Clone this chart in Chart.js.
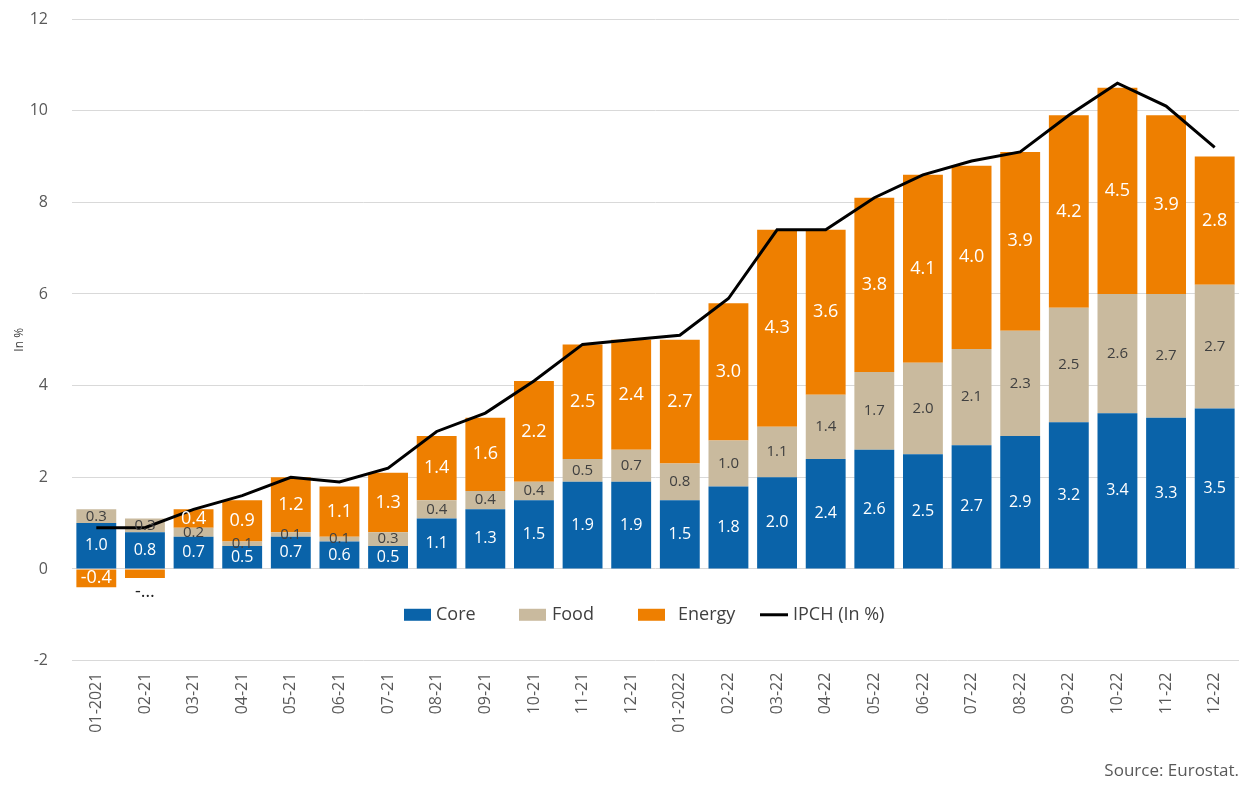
<!DOCTYPE html>
<html>
<head>
<meta charset="utf-8">
<script src="https://cdn.jsdelivr.net/npm/chart.js@4.4.1/dist/chart.umd.min.js"></script>
<style>
  html, body { margin: 0; padding: 0; background: #ffffff; }
  #wrap { width: 1247px; height: 785px; position: relative; }
</style>
</head>
<body>
<div id="wrap"><canvas id="c" width="1247" height="785"></canvas></div>
<script>
const categories = ['01-2021','02-21','03-21','04-21','05-21','06-21','07-21','08-21','09-21','10-21','11-21','12-21',
  '01-2022','02-22','03-22','04-22','05-22','06-22','07-22','08-22','09-22','10-22','11-22','12-22'];
const coreValues   = [1.0,0.8,0.7,0.5,0.7,0.6,0.5,1.1,1.3,1.5,1.9,1.9,1.5,1.8,2.0,2.4,2.6,2.5,2.7,2.9,3.2,3.4,3.3,3.5];
const foodValues   = [0.3,0.3,0.2,0.1,0.1,0.1,0.3,0.4,0.4,0.4,0.5,0.7,0.8,1.0,1.1,1.4,1.7,2.0,2.1,2.3,2.5,2.6,2.7,2.7];
const energyValues = [-0.4,-0.2,0.4,0.9,1.2,1.1,1.3,1.4,1.6,2.2,2.5,2.4,2.7,3.0,4.3,3.6,3.8,4.1,4.0,3.9,4.2,4.5,3.9,2.8];
const ipchValues   = [0.9,0.9,1.3,1.6,2.0,1.9,2.2,3.0,3.4,4.1,4.9,5.0,5.1,5.9,7.4,7.4,8.1,8.6,8.9,9.1,9.9,10.6,10.1,9.2];
const yTicks = [-2,0,2,4,6,8,10,12];

const COLORS = { core: '#0A63A9', food: '#C9BA9E', energy: '#EE7F00', line: '#000000' };
const FONT = '"Open Sans", "Liberation Sans", sans-serif';

const labelPlugin = {
  id: 'segLabels',
  afterDatasetsDraw(chart) {
    const ctx = chart.ctx;
    ctx.save();
    ctx.textAlign = 'center';
    ctx.textBaseline = 'middle';
    chart.data.datasets.forEach((ds, di) => {
      if (ds.type === 'line') return;
      const meta = chart.getDatasetMeta(di);
      ctx.font = ds.labelSize + 'px ' + FONT;
      meta.data.forEach((el, i) => {
        const v = ds.data[i];
        const h = Math.abs(el.base - el.y);
        const cx = el.x;
        let cy = (el.y + el.base) / 2;
        let txt = v.toFixed(1);
        let color = ds.labelColor;
        if (v < 0 && h < 12) {
          txt = '-…';
          cy = el.base + 22;
          color = '#222222';
        }
        ctx.fillStyle = color;
        ctx.fillText(txt, cx, cy);
      });
    });
    ctx.restore();
  }
};

const legendPlugin = {
  id: 'innerLegend',
  afterDraw(chart) {
    const ctx = chart.ctx;
    const y = chart.scales.y.getPixelForValue(-1.0);
    const items = [
      { x: 404, tx: 436, ds: 0 },
      { x: 519, tx: 552, ds: 1 },
      { x: 638, tx: 678, ds: 2 },
      { x: 760, tx: 793, ds: 3 }
    ];
    ctx.save();
    ctx.font = '18px ' + FONT;
    ctx.textBaseline = 'middle';
    ctx.textAlign = 'left';
    items.forEach(it => {
      const ds = chart.data.datasets[it.ds];
      if (ds.type === 'line') {
        ctx.strokeStyle = ds.borderColor;
        ctx.lineWidth = 3;
        ctx.beginPath();
        ctx.moveTo(it.x, y);
        ctx.lineTo(it.x + 28, y);
        ctx.stroke();
      } else {
        ctx.fillStyle = ds.backgroundColor;
        ctx.fillRect(it.x, y - 6, 27, 12);
      }
      ctx.fillStyle = '#404040';
      ctx.fillText(ds.label, it.tx, y);
    });
    ctx.restore();
  }
};

new Chart(document.getElementById('c'), {
  data: {
    labels: categories,
    datasets: [
      { type: 'bar', label: 'Core', data: coreValues, backgroundColor: COLORS.core, labelColor: '#ffffff', labelSize: 16, stack: 'bars', order: 2 },
      { type: 'bar', label: 'Food', data: foodValues, backgroundColor: COLORS.food, labelColor: '#404040', labelSize: 15, stack: 'bars', order: 2 },
      { type: 'bar', label: 'Energy', data: energyValues, backgroundColor: COLORS.energy, labelColor: '#ffffff', labelSize: 18, stack: 'bars', order: 2 },
      { type: 'line', label: 'IPCH (In %)', data: ipchValues, borderColor: COLORS.line, backgroundColor: COLORS.line,
        borderWidth: 3, pointRadius: 0, tension: 0, stack: 'ipch', order: 1 }
    ]
  },
  options: {
    responsive: false,
    animation: false,
    layout: { padding: { top: 19, right: 8, left: 12, bottom: 0 } },
    datasets: { bar: { barPercentage: 0.82, categoryPercentage: 1.0 } },
    plugins: {
      legend: { display: false },
      tooltip: { enabled: false },
      subtitle: {
        display: true, position: 'bottom', align: 'end', text: 'Source: Eurostat.',
        color: '#595959', font: { family: FONT, size: 17 }, padding: { top: 0, bottom: 4 }
      }
    },
    scales: {
      x: {
        stacked: true,
        grid: { display: false, drawTicks: false },
        border: { display: false },
        ticks: { minRotation: 90, maxRotation: 90, autoSkip: false, padding: 12, color: '#595959', font: { family: FONT, size: 16 } },
        afterFit(s) { s.height = 100; }
      },
      y: {
        stacked: true,
        min: -2, max: 12,
        afterBuildTicks(s) { s.ticks = yTicks.map(v => ({ value: v })); },
        grid: { color: '#D9D9D9', lineWidth: 1, drawTicks: true, tickLength: 21, tickColor: 'rgba(0,0,0,0)' },
        border: { display: false },
        ticks: { padding: 3, color: '#595959', font: { family: FONT, size: 16 } },
        title: { display: true, text: 'In %', color: '#404040', font: { family: FONT, size: 12 }, padding: { top: 0, bottom: 0 } },
        afterFit(s) { s.width = 60; }
      }
    }
  },
  plugins: [labelPlugin, legendPlugin]
});
</script>
</body>
</html>
